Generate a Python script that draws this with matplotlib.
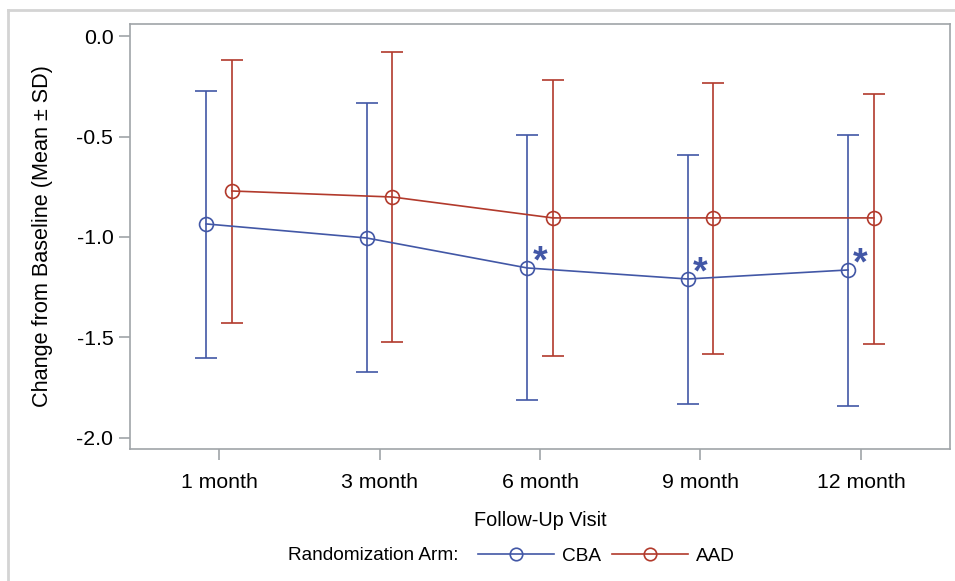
import numpy as np
import matplotlib.pyplot as plt
from matplotlib.lines import Line2D

plt.rcParams['font.family'] = ['Liberation Sans', 'DejaVu Sans']

# Data
visits = ["1 month", "3 month", "6 month", "9 month", "12 month"]
cba_mean = [-0.935, -1.005, -1.154, -1.209, -1.164]
cba_hi = [-0.272, -0.333, -0.493, -0.590, -0.493]
cba_lo = [-1.602, -1.672, -1.811, -1.831, -1.841]
aad_mean = [-0.771, -0.801, -0.905, -0.905, -0.905]
aad_hi = [-0.119, -0.080, -0.219, -0.234, -0.289]
aad_lo = [-1.428, -1.522, -1.592, -1.582, -1.532]
signif = [False, False, True, True, True]

cba_col = "#4257A6"
aad_col = "#B23A2C"
axis_col = "#A0A4A8"
fs = 15.3

fig = plt.figure(figsize=(9.55, 5.81), dpi=100)
ax = fig.add_axes([0.1361, 0.2272, 0.8587, 0.7315])

x = np.arange(len(visits))
off = 0.08

def draw(xs, mean, lo, hi, col):
    mean = np.array(mean)
    yerr = [mean - np.array(lo), np.array(hi) - mean]
    ax.errorbar(xs, mean, yerr=yerr, color=col, lw=1.2, elinewidth=1.2,
                capsize=8, capthick=1.2, marker='o', ms=10, mfc='none',
                mec=col, mew=1.2)

draw(x - off, cba_mean, cba_lo, cba_hi, cba_col)
draw(x + off, aad_mean, aad_lo, aad_hi, aad_col)

for xi, yi, s in zip(x - off, cba_mean, signif):
    if s:
        ax.annotate("*", (xi, yi), xytext=(9, -9), textcoords='offset points',
                    color=cba_col, fontsize=27, fontweight='bold',
                    ha='center', va='bottom')

ax.set_xlim(-0.555, 4.555)
ax.set_ylim(-2.055, 0.06)
ax.set_xticks(x)
ax.set_xticklabels(visits)
ax.set_yticks([0.0, -0.5, -1.0, -1.5, -2.0])
ax.set_yticklabels(["0.0", "-0.5", "-1.0", "-1.5", "-2.0"])
ax.tick_params(axis='both', colors=axis_col, labelcolor='black', labelsize=fs,
               length=8, width=1.2)
ax.tick_params(axis='x', pad=9)
ax.tick_params(axis='y', pad=4)
for sp in ax.spines.values():
    sp.set_color(axis_col)
    sp.set_linewidth(1.2)

ax.set_xlabel("Follow-Up Visit", fontsize=14.3, labelpad=14)
ax.set_ylabel("Change from Baseline (Mean \u00b1 SD)", fontsize=15.6, labelpad=17)

# outer border
fig.add_artist(Line2D([8/955, 1], [1 - 10/581, 1 - 10/581], color="#D4D4D4", lw=2))
fig.add_artist(Line2D([8/955, 8/955], [0, 1 - 10/581], color="#D4D4D4", lw=2))

# legend
lfs = 13.7
fig.text(458/955, 1 - 556/581, "Randomization Arm:", fontsize=lfs,
         ha='right', va='center')
handles = [Line2D([], [], color=cba_col, lw=1.2, marker='o', ms=9, mfc='none', mew=1.2),
           Line2D([], [], color=aad_col, lw=1.2, marker='o', ms=9, mfc='none', mew=1.2)]
fig.legend(handles, ["CBA", "AAD"], ncol=2, frameon=False, fontsize=lfs,
           loc='center left', bbox_to_anchor=(478/955, 1 - 556/581),
           handlelength=4.0, handletextpad=0.4, columnspacing=0.6,
           borderaxespad=0, borderpad=0)

fig.savefig("out.png", dpi=100)
